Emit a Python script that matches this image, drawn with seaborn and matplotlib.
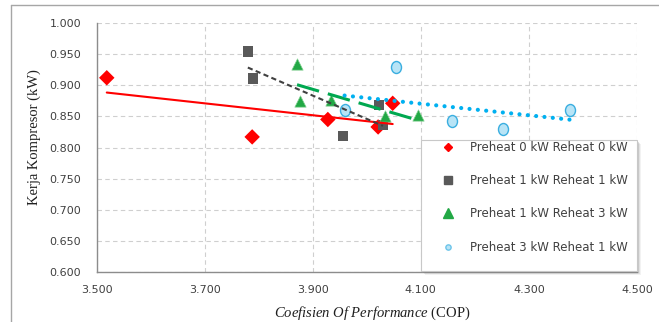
import numpy as np
import pandas as pd
import seaborn as sns
import matplotlib
matplotlib.use("Agg")
import matplotlib.pyplot as plt
from matplotlib.lines import Line2D
from matplotlib.markers import MarkerStyle
from matplotlib.transforms import Affine2D
from matplotlib.patches import Rectangle

# ---- data ----
series_labels = ["Preheat 0 kW Reheat 0 kW", "Preheat 1 kW Reheat 1 kW",
                 "Preheat 1 kW Reheat 3 kW", "Preheat 3 kW Reheat 1 kW"]
cop_p0r0 = [3.519, 3.788, 3.928, 4.021, 4.048]
kw_p0r0 = [0.912, 0.817, 0.845, 0.833, 0.871]
cop_p1r1 = [3.780, 3.789, 3.956, 4.023, 4.030]
kw_p1r1 = [0.954, 0.911, 0.819, 0.868, 0.836]
cop_p1r3 = [3.871, 3.876, 3.933, 4.033, 4.094]
kw_p1r3 = [0.934, 0.874, 0.877, 0.851, 0.853]
cop_p3r1 = [3.959, 4.054, 4.158, 4.252, 4.376]
kw_p3r1 = [0.860, 0.930, 0.843, 0.830, 0.861]
x_ticks = [3.5, 3.7, 3.9, 4.1, 4.3, 4.5]
y_ticks = [0.60, 0.65, 0.70, 0.75, 0.80, 0.85, 0.90, 0.95, 1.00]

cops = [cop_p0r0, cop_p1r1, cop_p1r3, cop_p3r1]
kws = [kw_p0r0, kw_p1r1, kw_p1r3, kw_p3r1]

sns.set_style("white")
plt.rcParams["font.family"] = ["DejaVu Sans"]
plt.rcParams["mathtext.fontset"] = "custom"
plt.rcParams["mathtext.rm"] = "Liberation Serif"
plt.rcParams["mathtext.it"] = "Liberation Serif:italic"

fig = plt.figure(figsize=(6.59, 3.22), dpi=100)
ax = fig.add_axes([96.5 / 659, 1 - 272 / 322, 540.5 / 659, 249 / 322])

ellipse = MarkerStyle("o", transform=Affine2D().scale(1.0, 1.2))
mstyles = [
    dict(marker="D", s=62, color="#ff0000", edgecolor="none"),
    dict(marker="s", s=55, color="#595959", edgecolor="none"),
    dict(marker="^", s=66, color="#22a845", edgecolor="#7fcf8f", linewidth=0.5),
    dict(marker=ellipse, s=52, color="#b8e4f6", edgecolor="#3aaee0", linewidth=1.0),
]
lstyles = [
    dict(color="#ff0000", lw=1.5, linestyle="-"),
    dict(color="#404040", lw=1.5, linestyle=(0, (2.5, 1.6))),
    dict(color="#00a850", lw=2.2, linestyle=(0, (7.5, 3.0))),
    dict(color="#00b0f0", lw=3.0, linestyle=(0, (0.01, 2.0)), dash_capstyle="round"),
]

for lab, xs, ys, ms, ls in zip(series_labels, cops, kws, mstyles, lstyles):
    df = pd.DataFrame({"COP": xs, "kW": ys})
    sns.scatterplot(data=df, x="COP", y="kW", ax=ax, zorder=2, legend=False, **ms)
    sns.regplot(data=df, x="COP", y="kW", ax=ax, scatter=False, ci=None,
                truncate=True, line_kws=dict(zorder=3, **ls))

ax.set_xlim(3.5, 4.5)
ax.set_ylim(0.6, 1.0)
ax.set_xticks(x_ticks)
ax.set_yticks(y_ticks)
ax.set_xticklabels([f"{v:.3f}" for v in x_ticks])
ax.set_yticklabels([f"{v:.3f}" for v in y_ticks])
ax.grid(True, color="#cfcfcf", linestyle=(0, (4, 3)), linewidth=0.8)
ax.set_axisbelow(True)
for s in ["top", "right"]:
    ax.spines[s].set_visible(False)
for s in ["left", "bottom"]:
    ax.spines[s].set_color("#8c8c8c")
    ax.spines[s].set_linewidth(1.0)
ax.tick_params(axis="x", direction="inout", length=5, width=0.8, color="#8c8c8c",
               labelsize=8, labelcolor="#404040", pad=7)
ax.tick_params(axis="y", direction="out", length=4, width=0.8, color="#8c8c8c",
               labelsize=8, labelcolor="#404040", pad=7)

ax.set_ylabel("Kerja Kompresor (kW)", family="Liberation Serif", fontsize=10.5,
              color="#1f1f1f")
ax.yaxis.set_label_coords(-0.103, 0.54)
ax.set_xlabel(r"$\mathit{Coefisien\ Of\ Performance}$ (COP)",
              family="Liberation Serif", fontsize=10.5, color="#1f1f1f")
ax.xaxis.set_label_coords(0.51, -0.133)

# legend box with soft shadow
x0, y0, x1, y1 = 0.6004, 0.004, 1.0, 0.530
dx, dy = 1 / 540.5, 1 / 249
for k, a in zip([4, 3, 2], [0.10, 0.15, 0.25]):
    ax.add_patch(Rectangle((x0 + k * dx, y0 - k * dy), x1 - x0, y1 - y0,
                           transform=ax.transAxes, facecolor="#808080", alpha=a,
                           edgecolor="none", zorder=4, clip_on=False))
box = Rectangle((x0, y0), x1 - x0, y1 - y0, transform=ax.transAxes,
                facecolor="white", edgecolor="#c8c8c8", linewidth=0.8, zorder=5,
                clip_on=False)
ax.add_patch(box)

handles = [
    Line2D([], [], linestyle="none", marker="D", markersize=4.2, color="#ff0000"),
    Line2D([], [], linestyle="none", marker="s", markersize=5.8, color="#595959"),
    Line2D([], [], linestyle="none", marker="^", markersize=6.5, color="#22a845"),
    Line2D([], [], linestyle="none", marker="o", markersize=3.8,
           markerfacecolor="#b8e4f6", markeredgecolor="#6cc4ea"),
]
leg = ax.legend(handles, series_labels, loc="upper left",
                bbox_to_anchor=(0.6213, 0.546), frameon=False, fontsize=8.5,
                borderaxespad=0, borderpad=0.4, handlelength=1.9,
                handletextpad=0.9, labelspacing=1.72, labelcolor="#404040")
leg.set_zorder(6)

# outer chart border (partially visible)
fig.add_artist(Line2D([11 / 659, 11 / 659], [0, 1 - 5 / 322], color="#a6a6a6",
                      lw=1.0, transform=fig.transFigure))
fig.add_artist(Line2D([11 / 659, 1], [1 - 5 / 322, 1 - 5 / 322], color="#a6a6a6",
                      lw=1.0, transform=fig.transFigure))

fig.savefig("out.png", dpi=100)
